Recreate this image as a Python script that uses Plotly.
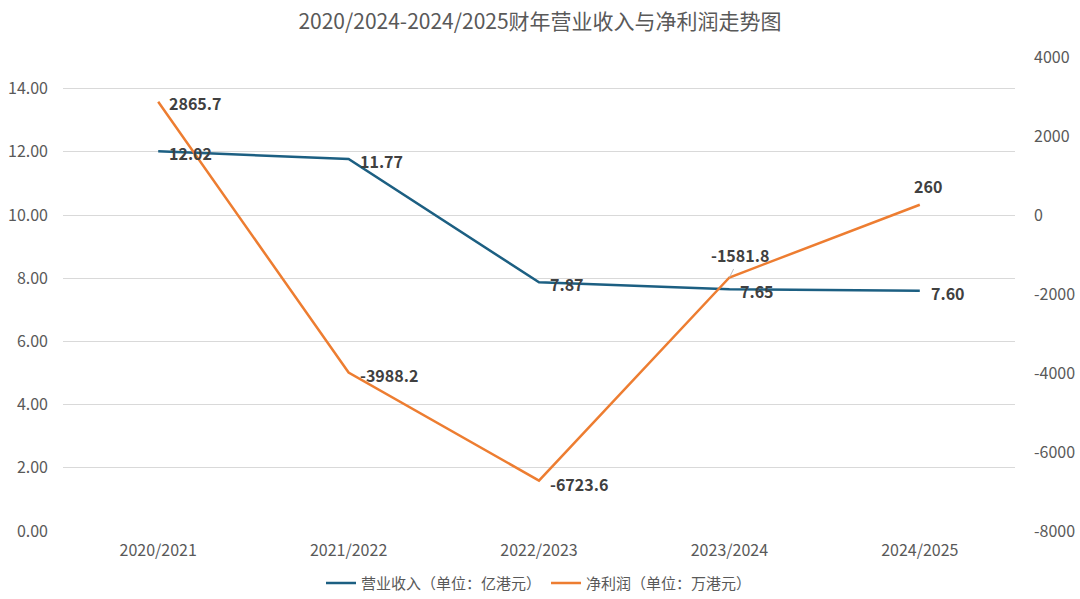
import plotly.graph_objects as go

categories = ["2020/2021", "2021/2022", "2022/2023", "2023/2024", "2024/2025"]
revenue = [12.02, 11.77, 7.87, 7.65, 7.60]
revenue_labels = ["12.02", "11.77", "7.87", "7.65", "7.60"]
profit = [2865.7, -3988.2, -6723.6, -1581.8, 260]
profit_labels = ["2865.7", "-3988.2", "-6723.6", "-1581.8", "260"]
left_ticks = [0, 2, 4, 6, 8, 10, 12, 14]
right_ticks = [-8000, -6000, -4000, -2000, 0, 2000, 4000]

FONT = "Noto Sans CJK SC"
BLUE = "#1C5F82"
ORANGE = "#ED7D31"
LABEL_FONT = dict(family=FONT, size=16, color="#404040", weight="bold")

fig = go.Figure()
fig.add_trace(go.Scatter(
    x=categories, y=revenue, mode="lines", name="营业收入（单位：亿港元）",
    line=dict(color=BLUE, width=2.5), yaxis="y", hoverinfo="skip",
))
fig.add_trace(go.Scatter(
    x=categories, y=profit, mode="lines", name="净利润（单位：万港元）",
    line=dict(color=ORANGE, width=2.5), yaxis="y2", hoverinfo="skip",
))

annotations = []
for c, v, t in zip(categories, revenue, revenue_labels):
    annotations.append(dict(x=c, y=v, xref="x", yref="y", text=t, showarrow=False,
                            xanchor="left", yanchor="middle", xshift=9, yshift=-2,
                            font=LABEL_FONT))
# placement of profit labels: (side, xshift, yshift); positive yshift = up
profit_place = [("right", 9, -1), ("right", 9, -2), ("right", 9, -3),
                ("leader", 11, 22), ("above", 8, 19)]
for c, v, t, (side, dx, dy) in zip(categories, profit, profit_labels, profit_place):
    if side == "right":
        annotations.append(dict(x=c, y=v, xref="x", yref="y2", text=t, showarrow=False,
                                xanchor="left", yanchor="middle", xshift=dx, yshift=dy,
                                font=LABEL_FONT))
    elif side == "leader":
        annotations.append(dict(x=c, y=v, xref="x", yref="y2", text=t, showarrow=True,
                                arrowhead=0, arrowwidth=1, arrowcolor="#BFBFBF",
                                ax=dx, ay=-dy, standoff=0,
                                xanchor="center", yanchor="middle", font=LABEL_FONT))
    else:
        annotations.append(dict(x=c, y=v, xref="x", yref="y2", text=t, showarrow=False,
                                xanchor="center", yanchor="middle", xshift=dx, yshift=dy,
                                font=LABEL_FONT))

fig.update_layout(
    width=1080, height=599,
    margin=dict(l=63, r=65, t=57, b=68, autoexpand=False),
    paper_bgcolor="white", plot_bgcolor="white",
    font=dict(family=FONT, color="#595959"),
    title=dict(text="2020/2024-2024/2025财年营业收入与净利润走势图",
               x=0.5, xanchor="center", y=1 - 22 / 599, yanchor="middle",
               yref="container", font=dict(size=21, color="#595959", family=FONT)),
    xaxis=dict(range=[-0.5, 4.5], showgrid=False, showline=False, ticks="", zeroline=False,
               automargin=False, ticklabelstandoff=8,
               tickfont=dict(size=16, color="#595959", family=FONT)),
    yaxis=dict(range=[0, 15], tickvals=left_ticks, ticktext=[f"{v:.2f}" for v in left_ticks],
               showgrid=True, gridcolor="#D9D9D9", gridwidth=1, zeroline=False,
               showline=False, ticks="", ticklabelstandoff=14, automargin=False,
               tickfont=dict(size=16, color="#595959", family=FONT)),
    yaxis2=dict(range=[-8000, 4000], tickvals=right_ticks, ticktext=[str(v) for v in right_ticks],
                overlaying="y", side="right", showgrid=False, zeroline=False,
                showline=False, ticks="", ticklabelstandoff=18, automargin=False,
                tickfont=dict(size=16, color="#595959", family=FONT)),
    legend=dict(orientation="h", x=0.5, xanchor="center", y=-0.11, yanchor="middle",
                font=dict(size=15, color="#595959", family=FONT), itemwidth=30,
                bgcolor="rgba(0,0,0,0)"),
    annotations=annotations,
    showlegend=True,
)

fig.write_html(
    "out.html",
    config={"displayModeBar": False},
    post_script="document.body.style.margin='0';document.body.style.overflow='hidden';",
)
